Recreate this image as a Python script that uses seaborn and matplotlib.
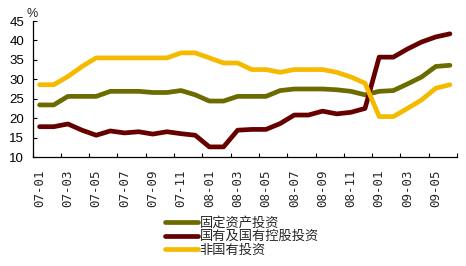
import matplotlib
matplotlib.use("Agg")
import matplotlib.pyplot as plt
import seaborn as sns
import pandas as pd
import numpy as np

months = ["07-01","07-02","07-03","07-04","07-05","07-06","07-07","07-08","07-09","07-10",
          "07-11","07-12","08-01","08-02","08-03","08-04","08-05","08-06","08-07","08-08",
          "08-09","08-10","08-11","08-12","09-01","09-02","09-03","09-04","09-05","09-06"]
fixed_asset = [23.4, 23.4, 25.6, 25.6, 25.6, 26.9, 26.9, 26.9, 26.6, 26.6,
               27.1, 26.0, 24.4, 24.4, 25.6, 25.6, 25.6, 27.1, 27.5, 27.5,
               27.5, 27.3, 26.9, 26.0, 26.9, 27.1, 28.8, 30.6, 33.3, 33.6]
state_owned = [17.8, 17.8, 18.5, 16.9, 15.6, 16.7, 16.2, 16.5, 15.9, 16.5,
               16.0, 15.6, 12.6, 12.6, 16.9, 17.1, 17.1, 18.6, 20.8, 20.8,
               21.8, 21.1, 21.5, 22.5, 35.7, 35.7, 37.8, 39.6, 40.9, 41.7]
non_state = [28.6, 28.6, 30.7, 33.3, 35.5, 35.5, 35.5, 35.5, 35.5, 35.5,
             36.8, 36.8, 35.5, 34.2, 34.2, 32.5, 32.5, 31.8, 32.5, 32.5,
             32.5, 31.8, 30.6, 29.0, 20.4, 20.4, 22.5, 24.7, 27.7, 28.6]
series_names = ["固定资产投资", "国有及国有控股投资", "非国有投资"]
y_ticks = [10, 15, 20, 25, 30, 35, 40, 45]

sns.set_theme(style="white")
plt.rcParams['font.family'] = ['Noto Sans CJK SC', 'DejaVu Sans']

idx = np.arange(len(months))
df = pd.DataFrame({
    "idx": np.concatenate([idx, idx, idx]),
    "value": fixed_asset + state_owned + non_state,
    "series": [series_names[0]] * len(months) + [series_names[1]] * len(months) + [series_names[2]] * len(months),
})
palette = {series_names[0]: "#6B6B00", series_names[1]: "#660000", series_names[2]: "#F5BA00"}

fig = plt.figure(figsize=(4.66, 2.66), dpi=100)
ax = fig.add_axes([32.5/466, 1-157/266, (457-32.5)/466, (157-21)/266])
sns.lineplot(data=df, x="idx", y="value", hue="series", palette=palette, hue_order=series_names,
             linewidth=3.4, ax=ax, legend=True)

ax.set_xlim(-0.5, len(months) - 0.5)
ax.set_ylim(10, 45)
ax.set_yticks(y_ticks)
ax.set_yticklabels([str(v) for v in y_ticks], fontsize=9.5, family=['Liberation Sans'])
ax.tick_params(axis='y', direction='in', length=3, width=0.8, pad=6, left=True, colors='black')
ax.set_xticks(idx[::2])
ax.set_xticklabels(months[::2], rotation=90, fontsize=9, family=['DejaVu Sans Mono'])
ax.tick_params(axis='x', length=0, pad=9)
ax.set_xticks(np.arange(-0.5, len(months), 2), minor=True)
ax.tick_params(axis='x', which='minor', direction='in', length=3, width=0.8, bottom=True, colors='black')
ax.set_xlabel("")
ax.set_ylabel("")
for s in ["top", "right"]:
    ax.spines[s].set_visible(False)
for s in ["left", "bottom"]:
    ax.spines[s].set_color("black")
    ax.spines[s].set_linewidth(0.9)
ax.text(-0.5, 45.3, "%", fontsize=9, ha="center", va="bottom", family=['Liberation Sans'])

handles, labels = ax.get_legend_handles_labels()
ax.legend(handles, labels, loc="upper left", bbox_to_anchor=(158/466, 1-210/266),
          bbox_transform=fig.transFigure, frameon=False, fontsize=9.5, handlelength=2.5,
          handletextpad=0.15, labelspacing=0.05, borderpad=0)

fig.savefig("out.png", dpi=100)
